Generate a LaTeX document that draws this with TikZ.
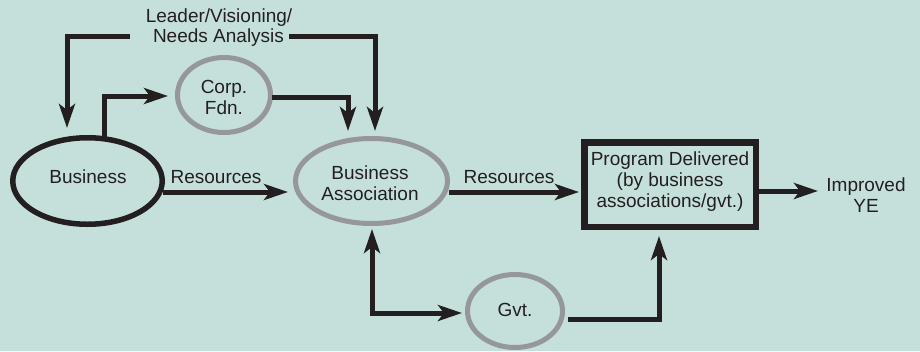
\documentclass[tikz,border=0pt]{standalone}
\usepackage{fontspec}
\setmainfont{Liberation Sans}
\usetikzlibrary{shapes.geometric,arrows.meta}
\definecolor{bg}{HTML}{C5E0DB}
\definecolor{ink}{HTML}{231F20}
\definecolor{ring}{HTML}{959799}
\tikzset{
  txt/.style={font=\fontsize{19}{21}\selectfont, text=ink, align=center, inner sep=0pt},
  blackoval/.style={ellipse, draw=ink, line width=5.5pt, inner sep=0pt},
  grayoval/.style={ellipse, draw=ring, line width=5pt, inner sep=0pt},
  boxnode/.style={rectangle, draw=ink, line width=6.5pt, inner sep=0pt},
  arr/.style={draw=ink, line width=5pt, -{Stealth[length=24pt,width=16pt,inset=6pt]}},
  biarr/.style={draw=ink, line width=5pt, {Stealth[length=24pt,width=16pt,inset=6pt]}-{Stealth[length=24pt,width=16pt,inset=6pt]}},
}
\begin{document}
\begin{tikzpicture}[x=1pt,y=-1pt]
\fill[bg] (0,0) rectangle (920,351);
\useasboundingbox (0,0) rectangle (920,351);

% nodes
\node[blackoval, minimum width=149.5pt, minimum height=86.5pt] (biz) at (87.5,181) {};
\node[txt] at (88,177) {Business};
\node[grayoval, minimum width=93pt, minimum height=75pt] (corp) at (224,95) {};
\node[txt] at (224,97) {Corp.\\Fdn.};
\node[grayoval, minimum width=152pt, minimum height=85pt] (ba) at (371.5,181) {};
\node[txt] at (370,183) {Business\\Association};
\node[grayoval, minimum width=95pt, minimum height=73pt] (gvt) at (515,311) {};
\node[txt] at (515,310) {Gvt.};
\node[boxnode, minimum width=171.5pt, minimum height=84.5pt] (prog) at (670,184.5) {};
\node[txt] at (670,182) {Program Delivered\\(by business\\associations/gvt.)};
\node[txt] (ye) at (866,195) {Improved\\YE};
\node[txt] (lead1) at (219,18) {Leader/Visioning/};
\node[txt] (lead2) at (218.5,38) {Needs Analysis};
\node[txt] (res1) at (216,177) {Resources};
\node[txt] (res2) at (509,177) {Resources};

% coordinates for connector ends
\coordinate (l0) at (130,36);
\coordinate (l1) at (67,128);
\coordinate (r0) at (289,36);
\coordinate (r1) at (375,131);
\coordinate (c1) at (348,131);
\coordinate (bz) at (104,138);
\coordinate (cf) at (168,96);
\coordinate (ce) at (272,97);
\coordinate (bizout) at (163,192);
\coordinate (bain) at (288,192);
\coordinate (baout) at (449,192);
\coordinate (progin) at (579,192);
\coordinate (progout) at (758,191);
\coordinate (yein) at (818,191);
\coordinate (baup) at (372,229);
\coordinate (gvin) at (462,313);
\coordinate (gvout) at (568,319);
\coordinate (progup) at (659,236);

% connectors
\draw[arr] (l0) -| (l1);
\draw[arr] (r0) -| (r1);
\draw[arr] (bz) |- (cf);
\draw[arr] (ce) -| (c1);
\draw[arr] (bizout) -- (bain);
\draw[arr] (baout) -- (progin);
\draw[arr] (progout) -- (yein);
\draw[biarr] (baup) |- (gvin);
\draw[arr] (gvout) -| (progup);
\end{tikzpicture}
\end{document}
